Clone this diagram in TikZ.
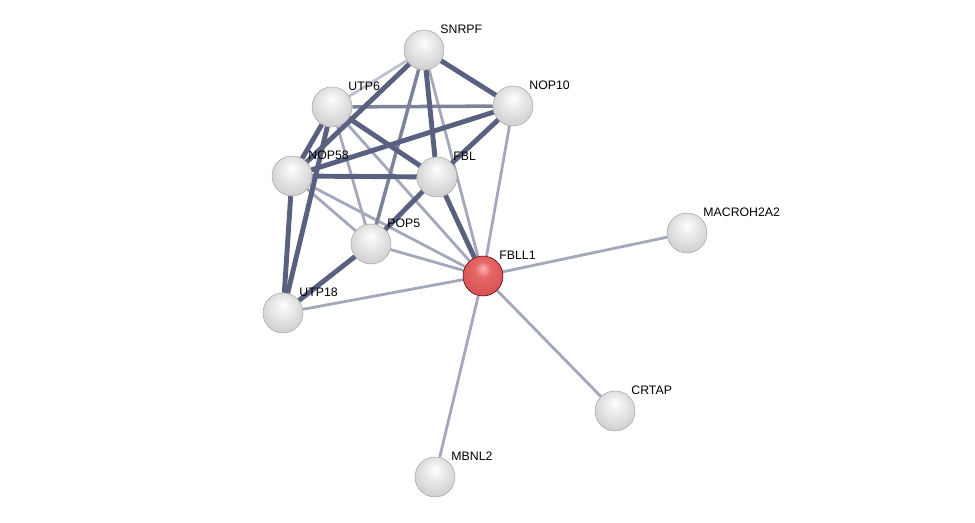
\documentclass[tikz,border=0pt]{standalone}
\usepackage{fontspec}
\setmainfont{Liberation Sans}
\usetikzlibrary{backgrounds}

\definecolor{edgelight}{HTML}{A3A8BA}
\definecolor{edgemid}{HTML}{7D8399}
\definecolor{edgedark}{HTML}{5A6180}

% Glossy balls
\pgfdeclareradialshading{glossygray}{\pgfpoint{0bp}{10bp}}{%
  color(0bp)=(white); color(10bp)=(white!93!black); color(28bp)=(white!82!black);
  color(40bp)=(white!66!black); color(50bp)=(white!45!black)}
\pgfdeclareradialshading{glossyred}{\pgfpoint{0bp}{10bp}}{%
  color(0bp)=(white!70!red); color(10bp)=(white!45!red!90!black); color(28bp)=(white!38!red!85!black);
  color(40bp)=(white!22!red!72!black); color(50bp)=(red!45!black)}

\tikzset{
  protein/.style={circle, minimum size=0.8cm, inner sep=0pt, shading=glossygray, draw=gray!70, line width=0.3pt},
  query/.style={protein, shading=glossyred, draw=red!30!black},
  lbl/.style={font=\fontsize{7}{8}\selectfont, inner sep=1pt, label distance=0pt},
  weak/.style={edgelight, line width=1.6pt},
  medium/.style={edgemid, line width=2pt},
  strong/.style={edgedark, line width=2.8pt}
}

\begin{document}
\begin{tikzpicture}[x=0.02cm, y=-0.02cm]
    \useasboundingbox (0,0) rectangle (975,523);

    % Proteins
    \node[protein, label={[lbl]45:SNRPF}] (snrpf) at (424,50) {};
    \node[protein, label={[lbl]45:UTP6}] (utp6) at (332,107) {};
    \node[protein, label={[lbl]45:NOP10}] (nop10) at (513,106) {};
    \node[protein, label={[lbl]45:NOP58}] (nop58) at (292,176) {};
    \node[protein, label={[lbl]45:FBL}] (fbl) at (437,177) {};
    \node[protein, label={[lbl]45:POP5}] (pop5) at (371,244) {};
    \node[query, label={[lbl]45:FBLL1}] (fbll1) at (483,276) {};
    \node[protein, label={[lbl]45:UTP18}] (utp18) at (283,313) {};
    \node[protein, label={[lbl]45:MACROH2A2}] (macroh2a2) at (687,233) {};
    \node[protein, label={[lbl]45:CRTAP}] (crtap) at (615,411) {};
    \node[protein, label={[lbl]45:MBNL2}] (mbnl2) at (435,477) {};

    \begin{pgfonlayer}{background}
    % Weak links
    \draw[weak, edgelight!70] (snrpf) -- (utp6);
    \draw[weak] (snrpf) -- (fbll1);
    \draw[weak] (utp6) -- (pop5);
    \draw[weak] (utp6) -- (fbll1);
    \draw[weak] (nop58) -- (pop5);
    \draw[weak] (nop58) -- (fbll1);
    \draw[weak] (nop10) -- (fbll1);
    \draw[weak] (pop5) -- (fbll1);
    \draw[weak] (utp18) -- (fbll1);
    \draw[weak] (fbll1) -- (macroh2a2);
    \draw[weak] (fbll1) -- (crtap);
    \draw[weak] (fbll1) -- (mbnl2);

    % Medium links
    \draw[medium] (snrpf) -- (pop5);
    \draw[medium] (utp6) -- (nop10);

    % Strong links
    \draw[strong] (snrpf) -- (nop10);
    \draw[strong] (snrpf) -- (nop58);
    \draw[strong] (snrpf) -- (fbl);
    \draw[strong] (utp6) -- (nop58);
    \draw[strong] (utp6) -- (utp18);
    \draw[strong] (utp6) -- (fbl);
    \draw[strong] (nop10) -- (nop58);
    \draw[strong] (nop10) -- (fbl);
    \draw[strong] (nop58) -- (fbl);
    \draw[strong] (nop58) -- (utp18);
    \draw[strong] (fbl) -- (pop5);
    \draw[strong] (fbl) -- (fbll1);
    \draw[strong] (pop5) -- (utp18);
    \end{pgfonlayer}
\end{tikzpicture}
\end{document}
